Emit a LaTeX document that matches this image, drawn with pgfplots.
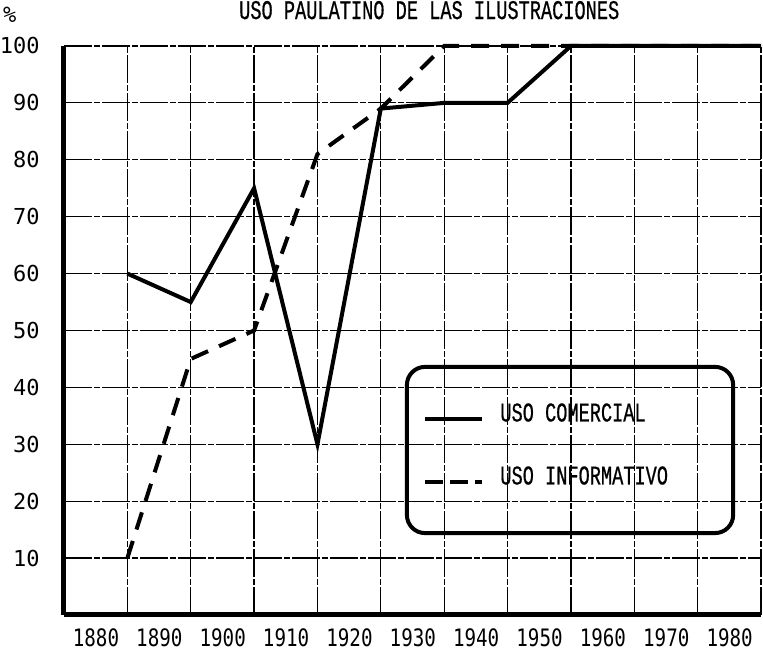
\documentclass[border=0pt]{standalone}
\usepackage{fontspec}
\usepackage{pgfplots}
\pgfplotsset{compat=1.18}
\setmainfont{DejaVu Sans Mono}
\newfontfamily\numfont{DejaVu Sans Mono}[FakeStretch=0.8]
\newfontfamily\ynumfont{DejaVu Sans Mono}
\newfontfamily\txtfont{Liberation Mono}[FakeStretch=0.69,FakeBold=0.6]

\begin{document}
\begin{tikzpicture}
\begin{axis}[
 scale only axis, width=348.5pt, height=284.5pt,
 xmin=1880, xmax=1990, ymin=0, ymax=100,
 axis x line*=bottom, axis y line*=left,
 axis line style={line width=2.5pt},
 /pgf/number format/assume math mode=true,
 xtick={1880,1890,...,1990},
 xticklabels={1880,1890,1900,1910,1920,1930,1940,1950,1960,1970,1980,{}},
 ytick={10,20,...,100},
 major tick length=0pt,
 grid=major,
 major grid style={black, line width=0.6pt, dash pattern=on 14pt off 1pt on 3pt off 1pt},
 xticklabel style={font=\fontsize{12}{12}\numfont, inner sep=0pt, anchor=north, xshift=16pt, yshift=-6.5pt},
 yticklabel style={font=\fontsize{11}{12}\ynumfont, inner sep=0pt, anchor=east, xshift=-12pt},
 clip=false,
 legend style={draw=none, fill=none, inner sep=0pt, at={(rel axis cs:0.515,0.369)}, anchor=north west,
   row sep=23.5pt, column sep=8pt, nodes={inner sep=0pt, text height=8pt, text depth=0pt},
   cells={anchor=west}, font=\fontsize{13.5}{14}\txtfont},
 legend image code/.code={\draw[#1] (0pt,-3pt) -- (28.5pt,-3pt);},
]
\addplot[black, line width=2pt] coordinates {(1890,60)(1900,55)(1910,75)(1920,30)(1930,89)(1940,90)(1950,90)(1960,100)(1970,100)(1980,100)(1990,100)};
\addlegendentry{USO COMERCIAL}
\addplot[black, line width=2pt, dash pattern=on 9pt off 6pt,
  legend image code/.code={\draw[black,line width=2pt,dash pattern=on 9pt off 3.5pt] (0pt,-3pt) -- (28.5pt,-3pt);}]
  coordinates {(1890,10)(1900,45)(1910,50)(1920,81)(1930,89)(1940,100)(1950,100)(1960,100)(1970,100)(1980,100)(1990,100)};
\addlegendentry{USO INFORMATIVO}
\draw[black, line width=2pt, rounded corners=9pt] (rel axis cs:0.492,0.436) rectangle (rel axis cs:0.960,0.144);
\node[font=\fontsize{13.5}{14}\txtfont] at (rel axis cs:0.524,1.063) {USO PAULATINO DE LAS ILUSTRACIONES};
\node[font=\fontsize{11}{12}\ynumfont] at (rel axis cs:-0.078,1.054) {\%};
\coordinate (SW) at (rel axis cs:0,0);
\coordinate (NE) at (rel axis cs:1,1);
\end{axis}
\pgfresetboundingbox
\path[use as bounding box] ([shift={(-32pt,-18pt)}]SW) rectangle ([shift={(1pt,23pt)}]NE);
\end{tikzpicture}
\end{document}
